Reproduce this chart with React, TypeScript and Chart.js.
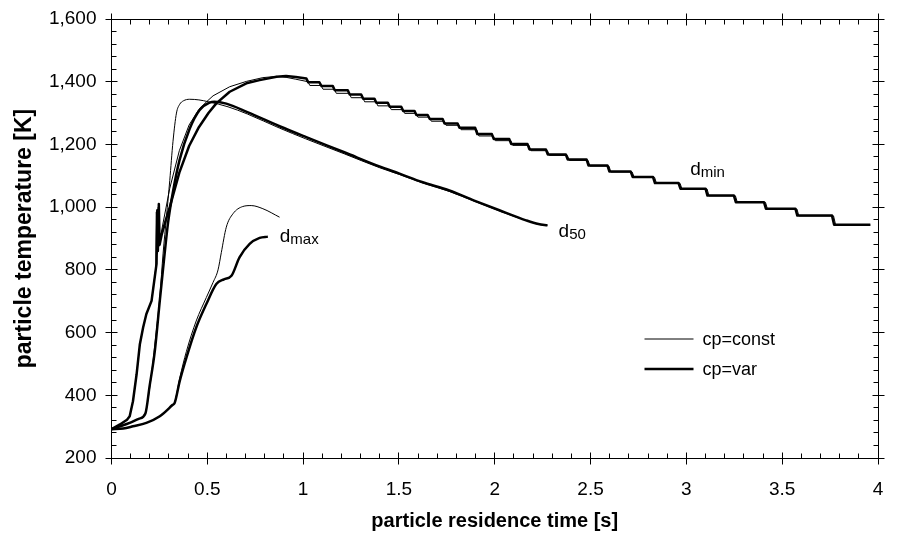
import React, { useEffect, useRef } from "react";
import { Chart, registerables } from "chart.js";

Chart.register(...registerables);

const FONT = "'Liberation Sans', Arial, Helvetica, sans-serif";

// axis ranges / ticks
const X_MIN = 0;
const X_MAX = 4;
const X_STEP = 0.5;
const X_MINOR_COUNT = 5;
const Y_MIN = 200;
const Y_MAX = 1600;
const Y_STEP = 200;
const Y_MINOR_COUNT = 5;

const X_TITLE = "particle residence time [s]";
const Y_TITLE = "particle temperature [K]";
const LEGEND_LABELS = ["cp=const", "cp=var"];

// ---- d_min, cp=var (thick) ----
const dMinVarTime = [
  0, 0.044, 0.081, 0.095, 0.112, 0.131, 0.148, 0.165, 0.182, 0.209, 0.235, 0.239, 0.242, 0.247, 0.251, 0.263,
  0.284, 0.304, 0.354, 0.405, 0.456, 0.506, 0.547, 0.617, 0.704, 0.773, 0.861, 0.911, 0.962,
  1.017, 1.027, 1.085, 1.096, 1.155, 1.165, 1.233, 1.243, 1.303, 1.313, 1.372, 1.382, 1.442, 1.452,
  1.512, 1.522, 1.581, 1.591, 1.65, 1.661, 1.728, 1.738, 1.806, 1.816, 1.898, 1.909, 1.985, 1.995,
  2.076, 2.086, 2.171, 2.181, 2.267, 2.277, 2.371, 2.381, 2.479, 2.489, 2.588, 2.598, 2.709, 2.72,
  2.826, 2.836, 2.959, 2.969, 3.1, 3.11, 3.248, 3.258, 3.405, 3.415, 3.569, 3.579, 3.76, 3.771, 3.96,
];
const dMinVarTemp = [
  292, 307, 322, 333, 381, 467, 563, 616, 659, 701, 819, 990, 860, 1010, 880, 915,
  960, 1000, 1110, 1195, 1255, 1300, 1331, 1368, 1395, 1405, 1416, 1418, 1415,
  1410, 1398, 1398, 1386, 1386, 1373, 1373, 1359, 1359, 1346, 1346, 1333, 1333, 1320,
  1320, 1307, 1307, 1294, 1294, 1281, 1281, 1267, 1267, 1253, 1253, 1233, 1233, 1217,
  1217, 1201, 1201, 1184, 1184, 1168, 1168, 1152, 1152, 1133, 1133, 1114, 1114, 1096,
  1096, 1077, 1077, 1059, 1059, 1037, 1037, 1016, 1016, 995, 995, 973, 973, 944, 944,
];

// ---- d_min, cp=const (thin) ----
const dMinConstTime = [
  0, 0.044, 0.081, 0.095, 0.112, 0.131, 0.148, 0.165, 0.182, 0.209, 0.231, 0.234, 0.237, 0.244, 0.248, 0.263,
  0.304, 0.354, 0.405, 0.456, 0.496, 0.53, 0.617, 0.704, 0.79, 0.861, 0.911, 0.962,
  1.025, 1.035, 1.093, 1.104, 1.163, 1.173, 1.241, 1.251, 1.311, 1.321, 1.38, 1.39, 1.45, 1.46,
  1.52, 1.53, 1.589, 1.599, 1.658, 1.669, 1.736, 1.746, 1.814, 1.824, 1.906, 1.917, 1.993, 2.003,
  2.084, 2.094, 2.179, 2.189, 2.275, 2.285, 2.379, 2.389, 2.487, 2.497, 2.596, 2.606, 2.717, 2.728,
  2.834, 2.844, 2.967, 2.977, 3.108, 3.118, 3.256, 3.266, 3.413, 3.423, 3.577, 3.587, 3.768, 3.779, 3.96,
];
const dMinConstTemp = [
  292, 307, 322, 333, 381, 467, 563, 616, 659, 701, 805, 985, 850, 1000, 875, 930,
  1060, 1180, 1262, 1312, 1336, 1355, 1384, 1401, 1413, 1417, 1414, 1408,
  1400, 1388, 1388, 1376, 1376, 1363, 1363, 1349, 1349, 1336, 1336, 1323, 1323, 1311,
  1311, 1299, 1299, 1287, 1287, 1274, 1274, 1261, 1261, 1247, 1247, 1227, 1227, 1212,
  1212, 1197, 1197, 1180, 1180, 1165, 1165, 1149, 1149, 1131, 1131, 1112, 1112, 1095,
  1095, 1076, 1076, 1058, 1058, 1036, 1036, 1015, 1015, 994, 994, 972, 972, 943, 943,
];

// ---- d_50, cp=var (thick) ----
const d50VarTime = [
  0, 0.044, 0.095, 0.142, 0.177, 0.199, 0.226, 0.252, 0.277, 0.295, 0.321, 0.355, 0.408, 0.46, 0.512, 0.537,
  0.599, 0.709, 0.877, 1.013, 1.215, 1.398, 1.503, 1.62, 1.763, 1.893, 2.024, 2.163, 2.228, 2.275,
];
const d50VarTemp = [
  292, 301, 312, 325, 342, 430, 541, 701, 850, 950, 1050, 1150, 1250, 1310, 1333, 1336,
  1330, 1303, 1258, 1224, 1175, 1130, 1107, 1080, 1053, 1021, 990, 958, 946, 942,
];

// ---- d_50, cp=const (thin) ----
const d50ConstTime = [
  0, 0.044, 0.095, 0.142, 0.174, 0.203, 0.233, 0.253, 0.269, 0.287, 0.304, 0.321, 0.339, 0.356, 0.375, 0.408,
  0.456, 0.506, 0.608, 0.709, 0.877, 1.013, 1.215, 1.398, 1.503, 1.62, 1.763, 1.893, 2.024, 2.126, 2.163, 2.228, 2.275,
];
const d50ConstTemp = [
  292, 301, 312, 325, 340, 440, 600, 720, 851, 970, 1085, 1210, 1300, 1328, 1339, 1344,
  1342, 1336, 1320, 1297, 1252, 1218, 1170, 1126, 1104, 1078, 1050, 1019, 988, 965, 958, 945, 941,
];

// ---- d_max, cp=var (thick) ----
const dMaxVarTime = [
  0, 0.061, 0.112, 0.182, 0.252, 0.318, 0.33, 0.356, 0.391, 0.442, 0.495, 0.547, 0.587, 0.626, 0.668, 0.721, 0.773, 0.816,
];
const dMaxVarTemp = [
  292, 294, 301, 312, 333, 369, 376, 445, 520, 616, 691, 755, 770, 781, 840, 883, 902, 906,
];

// ---- d_max, cp=const (thin) ----
const dMaxConstTime = [
  0, 0.061, 0.112, 0.182, 0.252, 0.318, 0.33, 0.356, 0.391, 0.442, 0.495, 0.53, 0.556, 0.573, 0.599, 0.634,
  0.685, 0.729, 0.79, 0.877,
];
const dMaxConstTemp = [
  292, 294, 301, 312, 333, 369, 378, 455, 540, 637, 712, 760, 800, 855, 936, 979,
  1002, 1005, 995, 968,
];

// curve labels (anchored in data coordinates)
const curveLabels = [
  { main: "d", sub: "min", t: 3.02, temp: 1101 },
  { main: "d", sub: "50", t: 2.333, temp: 906 },
  { main: "d", sub: "max", t: 0.878, temp: 888 },
];

const toPoints = (ts: number[], vs: number[]) => ts.map((t, i) => ({ x: t, y: vs[i] }));

const THIN = 1;
const THICK = 2.5;

const frameTicksPlugin = {
  id: "frameTicks",
  afterDatasetsDraw(chart: any) {
    const { ctx, chartArea, scales } = chart;
    const xs = scales.x;
    const ys = scales.y;
    const c = (v: number) => Math.floor(v) + 0.5;
    const L = c(chartArea.left);
    const R = c(chartArea.right);
    const T = c(chartArea.top);
    const B = c(chartArea.bottom);
    ctx.save();
    ctx.strokeStyle = "#000";
    ctx.lineWidth = 1;
    ctx.beginPath();
    ctx.rect(L, T, R - L, B - T);
    const xMinorStep = X_STEP / X_MINOR_COUNT;
    const nx = Math.round((X_MAX - X_MIN) / xMinorStep);
    for (let i = 0; i <= nx; i++) {
      const v = X_MIN + i * xMinorStep;
      const px = c(xs.getPixelForValue(v));
      if (i % X_MINOR_COUNT === 0) {
        ctx.moveTo(px, B - 6);
        ctx.lineTo(px, B + 6);
        ctx.moveTo(px, T - 6);
        ctx.lineTo(px, T + 6);
      } else {
        ctx.moveTo(px, B);
        ctx.lineTo(px, B - 5);
        ctx.moveTo(px, T);
        ctx.lineTo(px, T + 5);
      }
    }
    const yMinorStep = Y_STEP / Y_MINOR_COUNT;
    const ny = Math.round((Y_MAX - Y_MIN) / yMinorStep);
    for (let i = 0; i <= ny; i++) {
      const v = Y_MIN + i * yMinorStep;
      const py = c(ys.getPixelForValue(v));
      if (i % Y_MINOR_COUNT === 0) {
        ctx.moveTo(L - 6, py);
        ctx.lineTo(L + 6, py);
        ctx.moveTo(R - 6, py);
        ctx.lineTo(R + 6, py);
      } else {
        ctx.moveTo(L, py);
        ctx.lineTo(L + 5, py);
        ctx.moveTo(R, py);
        ctx.lineTo(R - 5, py);
      }
    }
    ctx.stroke();
    ctx.restore();
  },
};

const labelsPlugin = {
  id: "curveLabels",
  afterDatasetsDraw(chart: any) {
    const { ctx, scales, chartArea } = chart;
    ctx.save();
    ctx.fillStyle = "#000";
    ctx.textBaseline = "alphabetic";
    ctx.textAlign = "left";
    for (const lab of curveLabels) {
      const x = scales.x.getPixelForValue(lab.t);
      const y = scales.y.getPixelForValue(lab.temp);
      ctx.font = `19px ${FONT}`;
      ctx.fillText(lab.main, x, y);
      const w = ctx.measureText(lab.main).width;
      ctx.font = `15px ${FONT}`;
      ctx.fillText(lab.sub, x + w, y + 2);
    }
    // legend
    const lx0 = chartArea.left + 533;
    const lx1 = chartArea.left + 582;
    const ly = [339, 369];
    const widths = [THIN, THICK];
    ctx.strokeStyle = "#000";
    ctx.font = `18px ${FONT}`;
    ctx.textBaseline = "middle";
    LEGEND_LABELS.forEach((txt, i) => {
      ctx.lineWidth = widths[i];
      ctx.beginPath();
      ctx.moveTo(lx0, ly[i]);
      ctx.lineTo(lx1, ly[i]);
      ctx.stroke();
      ctx.fillText(txt, lx1 + 9, ly[i] + 1);
    });
    ctx.restore();
  },
};

export default function App() {
  const ref = useRef<HTMLCanvasElement | null>(null);
  useEffect(() => {
    if (!ref.current) return;
    const mk = (label: string, ts: number[], vs: number[], w: number, mono: boolean) => ({
      label,
      data: toPoints(ts, vs),
      borderColor: "#000",
      backgroundColor: "#000",
      borderWidth: w,
      pointRadius: 0,
      fill: false,
      tension: 0,
      cubicInterpolationMode: mono ? "monotone" : "default",
      borderJoinStyle: "round",
    });
    const chart = new Chart(ref.current, {
      type: "line",
      data: {
        datasets: [
          mk("d_min cp=const", dMinConstTime, dMinConstTemp, THIN, false),
          mk("d_min cp=var", dMinVarTime, dMinVarTemp, THICK, false),
          mk("d_50 cp=const", d50ConstTime, d50ConstTemp, THIN, true),
          mk("d_50 cp=var", d50VarTime, d50VarTemp, THICK, true),
          mk("d_max cp=const", dMaxConstTime, dMaxConstTemp, THIN, true),
          mk("d_max cp=var", dMaxVarTime, dMaxVarTemp, THICK, true),
        ] as any,
      },
      options: {
        animation: false,
        responsive: false,
        devicePixelRatio: 1,
        layout: { padding: { top: 19, right: 21, left: 0, bottom: 0 } },
        plugins: { legend: { display: false }, tooltip: { enabled: false } },
        scales: {
          x: {
            type: "linear",
            min: X_MIN,
            max: X_MAX,
            grid: { display: false, drawTicks: false },
            border: { display: false },
            ticks: {
              stepSize: X_STEP,
              padding: 20,
              color: "#000",
              maxRotation: 0,
              autoSkip: false,
              font: { family: FONT, size: 19 },
              callback: (v: any) => String(Math.round(Number(v) * 10) / 10),
            },
            title: {
              display: true,
              text: X_TITLE,
              color: "#000",
              font: { family: FONT, size: 20, weight: "bold" },
              padding: { top: 0, bottom: 6 },
            },
            afterFit: (s: any) => {
              s.height = 81;
              s.paddingLeft = 0;
              s.paddingRight = 0;
            },
          },
          y: {
            type: "linear",
            min: Y_MIN,
            max: Y_MAX,
            grid: { display: false, drawTicks: false },
            border: { display: false },
            ticks: {
              stepSize: Y_STEP,
              padding: 15,
              color: "#000",
              font: { family: FONT, size: 19 },
              callback: (v: any) => Number(v).toLocaleString("en-US"),
            },
            title: {
              display: true,
              text: Y_TITLE,
              color: "#000",
              font: { family: FONT, size: 23, weight: "bold" },
              padding: { top: 11, bottom: 0 },
            },
            afterFit: (s: any) => {
              s.width = 111.5;
              s.paddingTop = 0;
              s.paddingBottom = 0;
            },
          },
        },
      } as any,
      plugins: [frameTicksPlugin, labelsPlugin],
    });
    return () => chart.destroy();
  }, []);
  return (
    <div style={{ position: "fixed", left: 0, top: 0, width: 899, height: 539, background: "#fff" }}>
      <canvas ref={ref} width={899} height={539} style={{ width: 899, height: 539, display: "block" }} />
    </div>
  );
}
